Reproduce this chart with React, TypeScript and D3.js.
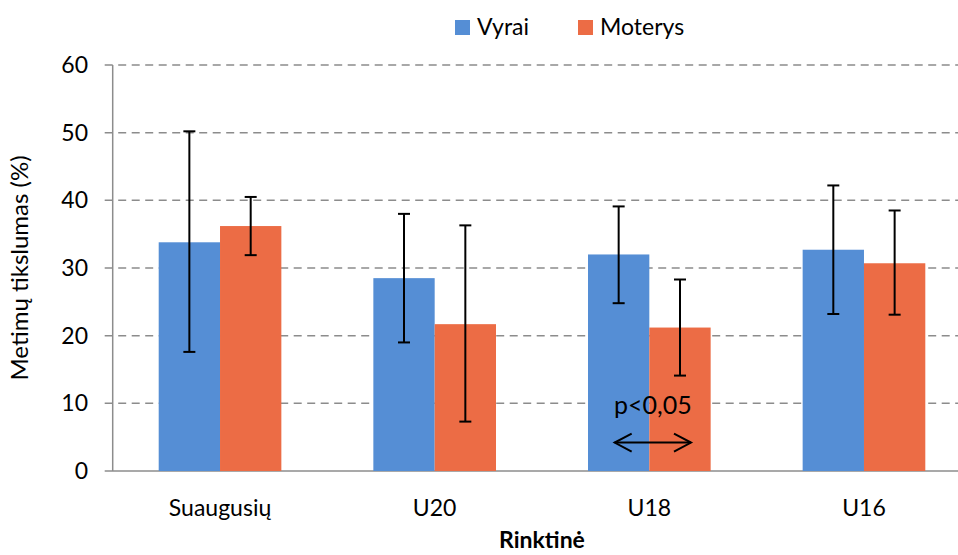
import React, { useEffect, useRef } from 'react';
import * as d3 from 'd3';

const categories = ['Suaugusių', 'U20', 'U18', 'U16'];
const seriesNames = ['Vyrai', 'Moterys'];
const vyrai = [33.8, 28.5, 32.0, 32.7];
const vyraiLow = [17.6, 19.0, 24.8, 23.2];
const vyraiHigh = [50.2, 38.0, 39.1, 42.2];
const moterys = [36.2, 21.7, 21.2, 30.7];
const moterysLow = [31.9, 7.3, 14.1, 23.1];
const moterysHigh = [40.5, 36.3, 28.3, 38.5];
const yTicks = [0, 10, 20, 30, 40, 50, 60];
const colors = ['#558ed5', '#ec6c45'];

const FONT = 'Lato, "Open Sans", sans-serif';

export default function App() {
  const svgRef = useRef<SVGSVGElement>(null);

  useEffect(() => {
    if (!svgRef.current) return;
    const svg = d3.select(svgRef.current);
    svg.selectAll('*').remove();

    const left = 112.7;
    const right = 971.3;
    const top = 65;
    const bottom = 471;

    const x = d3.scaleBand()
      .domain(categories)
      .range([left, right])
      .paddingInner(0.4286)
      .paddingOuter(0.2143);

    const xs = d3.scaleBand()
      .domain(seriesNames)
      .range([0, x.bandwidth()]);

    const y = d3.scaleLinear()
      .domain([0, 60])
      .range([bottom, top]);

    // gridlines (dashed), starting at tick mark position
    svg.append('g')
      .selectAll('line')
      .data(yTicks.filter(d => d > 0))
      .enter()
      .append('line')
      .attr('x1', left - 8)
      .attr('x2', 958)
      .attr('y1', d => y(d))
      .attr('y2', d => y(d))
      .attr('stroke', '#8c8c8c')
      .attr('stroke-width', 1.5)
      .attr('stroke-dasharray', '8,5.5');

    // baseline
    svg.append('line')
      .attr('x1', left - 8)
      .attr('x2', 958)
      .attr('y1', y(0))
      .attr('y2', y(0))
      .attr('stroke', '#8c8c8c')
      .attr('stroke-width', 1.5);

    // y axis line
    svg.append('line')
      .attr('x1', left)
      .attr('x2', left)
      .attr('y1', y(60))
      .attr('y2', y(0))
      .attr('stroke', '#8c8c8c')
      .attr('stroke-width', 1.5);

    // y tick labels
    svg.append('g')
      .selectAll('text')
      .data(yTicks)
      .enter()
      .append('text')
      .attr('x', 88)
      .attr('y', d => y(d))
      .attr('dy', '0.35em')
      .attr('text-anchor', 'end')
      .style('font-family', FONT)
      .style('font-size', '23px')
      .attr('fill', '#000')
      .text(d => d);

    const series = [
      { name: seriesNames[0], values: vyrai, low: vyraiLow, high: vyraiHigh },
      { name: seriesNames[1], values: moterys, low: moterysLow, high: moterysHigh },
    ];

    series.forEach((s, si) => {
      const g = svg.append('g');
      g.selectAll('rect')
        .data(categories)
        .enter()
        .append('rect')
        .attr('x', (c) => (x(c) || 0) + (xs(s.name) || 0))
        .attr('y', (_, i) => y(s.values[i]))
        .attr('width', xs.bandwidth())
        .attr('height', (_, i) => y(0) - y(s.values[i]))
        .attr('fill', colors[si]);
    });

    series.forEach((s) => {
      const g = svg.append('g');
      categories.forEach((c, i) => {
        const cx = (x(c) || 0) + (xs(s.name) || 0) + xs.bandwidth() / 2;
        g.append('line')
          .attr('x1', cx).attr('x2', cx)
          .attr('y1', y(s.low[i])).attr('y2', y(s.high[i]))
          .attr('stroke', '#000').attr('stroke-width', 2);
        [s.low[i], s.high[i]].forEach(v => {
          g.append('line')
            .attr('x1', cx - 6).attr('x2', cx + 6)
            .attr('y1', y(v)).attr('y2', y(v))
            .attr('stroke', '#000').attr('stroke-width', 2);
        });
      });
    });

    // x tick labels
    svg.append('g')
      .selectAll('text')
      .data(categories)
      .enter()
      .append('text')
      .attr('x', c => (x(c) || 0) + x.bandwidth() / 2)
      .attr('y', 516)
      .attr('text-anchor', 'middle')
      .style('font-family', FONT)
      .style('font-size', '23px')
      .attr('fill', '#000')
      .text(d => d);

    // x axis title
    svg.append('text')
      .attr('x', (left + right) / 2)
      .attr('y', 548)
      .attr('text-anchor', 'middle')
      .style('font-family', FONT)
      .style('font-size', '23px')
      .style('font-weight', 'bold')
      .attr('fill', '#000')
      .text('Rinktinė');

    // y axis title
    svg.append('text')
      .attr('transform', `translate(28,${(top + bottom) / 2}) rotate(-90)`)
      .attr('text-anchor', 'middle')
      .style('font-family', FONT)
      .style('font-size', '24px')
      .attr('fill', '#000')
      .text('Metimų tikslumas (%)');

    // legend
    const legend = svg.append('g');
    const legendX = [455, 578];
    seriesNames.forEach((n, i) => {
      legend.append('rect')
        .attr('x', legendX[i]).attr('y', 20)
        .attr('width', 15).attr('height', 15)
        .attr('fill', colors[i]);
      legend.append('text')
        .attr('x', legendX[i] + 22).attr('y', 35)
        .style('font-family', FONT)
        .style('font-size', '23px')
        .attr('fill', '#000')
        .text(n);
    });

    // significance annotation for U18
    const c = 'U18';
    const ax1 = (x(c) || 0) + (xs(seriesNames[0]) || 0) + xs.bandwidth() / 2 - 4;
    const ax2 = (x(c) || 0) + (xs(seriesNames[1]) || 0) + xs.bandwidth() / 2 + 11;
    const ay = y(4.2);
    const ann = svg.append('g').attr('stroke', '#000').attr('stroke-width', 2).attr('fill', 'none');
    ann.append('line').attr('x1', ax1).attr('x2', ax2).attr('y1', ay).attr('y2', ay);
    ann.append('path').attr('d', `M${ax1 + 17},${ay - 9} L${ax1},${ay} L${ax1 + 17},${ay + 9}`);
    ann.append('path').attr('d', `M${ax2 - 17},${ay - 9} L${ax2},${ay} L${ax2 - 17},${ay + 9}`);
    svg.append('text')
      .attr('x', (ax1 + ax2) / 2)
      .attr('y', y(8.4))
      .attr('text-anchor', 'middle')
      .style('font-family', FONT)
      .style('font-size', '25px')
      .attr('fill', '#000')
      .text('p<0,05');
  }, []);

  return (
    <svg
      ref={svgRef}
      width={958}
      height={555}
      style={{ position: 'fixed', top: 0, left: 0, background: '#fff' }}
    />
  );
}
